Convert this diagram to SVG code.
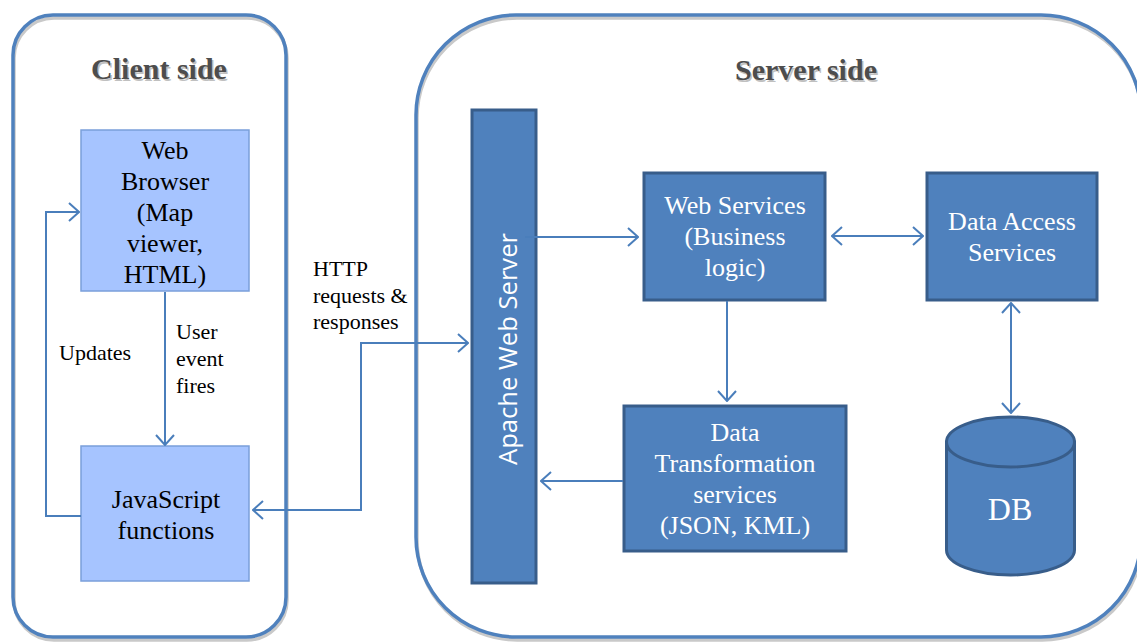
<svg xmlns="http://www.w3.org/2000/svg" width="1137" height="642" viewBox="0 0 1137 642">
<style>
.cont{fill:none;stroke:#4F81BD;stroke-width:3.5}
.shadow{fill:none;stroke:#C9C9C9;stroke-width:3.5}
.title{font-family:"Liberation Serif",serif;font-weight:bold;font-size:30px;text-anchor:middle}
.light{fill:#A6C4FF;stroke:#7A9FDA;stroke-width:1.5}
.dark{fill:#4F81BD;stroke:#385D8A;stroke-width:3}
.t{font-family:"Liberation Serif",serif;font-size:26px;text-anchor:middle;fill:#000}
.tw{font-family:"Liberation Serif",serif;font-size:26px;text-anchor:middle;fill:#FFFFFF}
.lbl{font-family:"Liberation Serif",serif;font-size:22px;fill:#000}
.conn{fill:none;stroke:#4A7EBB;stroke-width:2}
</style>
<defs>
<marker id="arr" viewBox="0 0 12 20" refX="11" refY="10" markerWidth="12" markerHeight="20" markerUnits="userSpaceOnUse" orient="auto-start-reverse">
<path d="M1,1 L11,10 L1,19" fill="none" stroke="#4A7EBB" stroke-width="2"/>
</marker>
</defs>

<g id="client-side">
<rect class="shadow" x="14" y="18" width="273" height="622" rx="40"/>
<rect class="cont" x="13" y="15" width="273" height="622" rx="40"/>
<text class="title" x="160.5" y="80.5" fill="#C0C0C0">Client side</text>
<text class="title" x="159" y="79" fill="#4D4D4D">Client side</text>
</g>

<g id="server-side">
<rect class="shadow" x="417" y="18" width="725" height="622" rx="100"/>
<rect class="cont" x="416" y="15" width="725" height="622" rx="100"/>
<text class="title" x="807.5" y="81.5" fill="#C0C0C0">Server side</text>
<text class="title" x="806" y="80" fill="#4D4D4D">Server side</text>
</g>

<g id="web-browser">
<rect class="light" x="81" y="130" width="168" height="161"/>
<text class="t" x="165" y="159">Web</text>
<text class="t" x="165" y="190">Browser</text>
<text class="t" x="165" y="221">(Map</text>
<text class="t" x="165" y="252">viewer,</text>
<text class="t" x="165" y="283">HTML)</text>
</g>

<g id="javascript-functions">
<rect class="light" x="81" y="446" width="168" height="135"/>
<text class="t" x="166" y="508">JavaScript</text>
<text class="t" x="166" y="539">functions</text>
</g>

<g id="apache-web-server">
<rect class="dark" x="472" y="110" width="64" height="473"/>
<text x="517" y="349" transform="rotate(-90 517 349)" font-family="'Open Sans','Liberation Sans',sans-serif" font-size="25" fill="#FFFFFF" text-anchor="middle" textLength="232" lengthAdjust="spacingAndGlyphs">Apache Web Server</text>
</g>

<g id="web-services">
<rect class="dark" x="644" y="173" width="181" height="127"/>
<text class="tw" x="735" y="214">Web Services</text>
<text class="tw" x="735" y="245">(Business</text>
<text class="tw" x="735" y="276">logic)</text>
</g>

<g id="data-access-services">
<rect class="dark" x="927" y="173" width="170" height="127"/>
<text class="tw" x="1012" y="230">Data Access</text>
<text class="tw" x="1012" y="261">Services</text>
</g>

<g id="data-transformation">
<rect class="dark" x="624" y="406" width="222" height="145"/>
<text class="tw" x="735" y="441">Data</text>
<text class="tw" x="735" y="472">Transformation</text>
<text class="tw" x="735" y="503">services</text>
<text class="tw" x="735" y="534">(JSON, KML)</text>
</g>

<g id="db">
<path d="M946.5,442 L946.5,550 A64,25 0 0 0 1074.5,550 L1074.5,442 Z" fill="#4F81BD" stroke="#385D8A" stroke-width="3"/>
<ellipse cx="1010.5" cy="442" rx="64" ry="25" fill="#4F81BD" stroke="#385D8A" stroke-width="3"/>
<text x="1010" y="520" font-family="'Liberation Serif',serif" font-size="32" fill="#FFFFFF" text-anchor="middle">DB</text>
</g>

<g id="connectors">
<path class="conn" d="M165,292 L165,445" marker-end="url(#arr)"/>
<path class="conn" d="M81,516 L46,516 L46,212 L79,212" marker-end="url(#arr)"/>
<path class="conn" d="M253,510 L361,510 L361,343 L468,343" marker-start="url(#arr)" marker-end="url(#arr)"/>
<path class="conn" d="M525,237 L638,237" marker-end="url(#arr)"/>
<path class="conn" d="M832,236 L923,236" marker-start="url(#arr)" marker-end="url(#arr)"/>
<path class="conn" d="M727,301 L727,401" marker-end="url(#arr)"/>
<path class="conn" d="M623,481 L541,481" marker-end="url(#arr)"/>
<path class="conn" d="M1011,303 L1011,413" marker-start="url(#arr)" marker-end="url(#arr)"/>
<text class="lbl" x="176" y="339">User</text>
<text class="lbl" x="176" y="366">event</text>
<text class="lbl" x="176" y="393">fires</text>
<text class="lbl" x="59" y="360">Updates</text>
<text class="lbl" x="313" y="276">HTTP</text>
<text class="lbl" x="313" y="303">requests &amp;</text>
<text class="lbl" x="313" y="329">responses</text>
</g>
</svg>
